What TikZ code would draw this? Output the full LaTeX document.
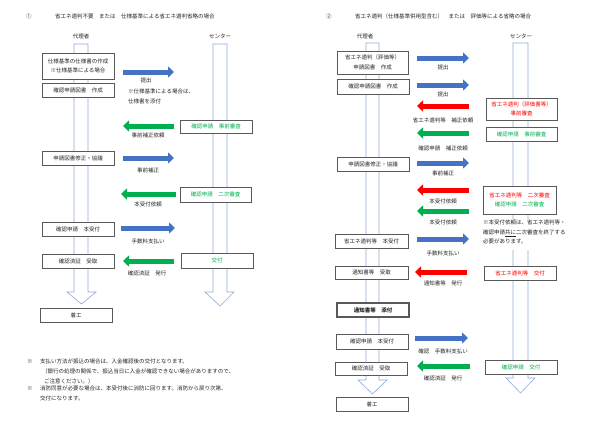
\documentclass[tikz,border=0pt]{standalone}
\usepackage{fontspec}
\setmainfont{Noto Sans CJK JP}
\usetikzlibrary{arrows.meta}
\definecolor{lifec}{HTML}{8EAADB}
\definecolor{abl}{HTML}{4472C4}
\definecolor{agr}{HTML}{00B050}
\definecolor{ard}{HTML}{FF0000}
\definecolor{bxc}{HTML}{595959}
\definecolor{txc}{HTML}{262626}
\begin{document}
\begin{tikzpicture}[x=1pt,y=-1pt,
  every node/.style={font=\fontsize{5.5}{9.7}\selectfont, inner sep=0pt, text=txc},
  box/.style={draw=bxc, line width=0.8pt, fill=white, minimum width=72pt, minimum height=14pt, align=center},
  gbox/.style={box, text=agr},
  rbox/.style={box, text=ard},
  flow/.style={draw=lifec, line width=0.6pt, fill=white},
  fa/.style={line width=5pt, -{Triangle[length=6pt,width=11pt]}},
  fblue/.style={fa, draw=abl},
  fgreen/.style={fa, draw=agr},
  fred/.style={fa, draw=ard},
  lab/.style={align=left},
  note/.style={align=left, anchor=north west}
]
\useasboundingbox (0,0) rectangle (600,424);
\fill[white] (0,0) rectangle (600,424);

% ===================== LEFT PANEL =====================
\node[anchor=west] (numL) at (26,16) {①};
\node[anchor=west] (titleL) at (55,16) {省エネ適判不要　または　仕様基準による省エネ適判省略の場合};
\node (agL) at (81,36) {代理者};
\node (ceL) at (220,36) {センター};

% lifelines
\draw[flow] (74,44) -- (88,44) -- (88,292) -- (96,292) -- (81.5,304) -- (67,292) -- (74,292) -- cycle;
\draw[flow] (213,44) -- (227,44) -- (227,292) -- (234,292) -- (220,306) -- (205,292) -- (213,292) -- cycle;

\node[box, minimum height=26pt] (La1) at (78,66) {仕様基準の仕様書の作成\\※仕様基準による場合};
\node[box] (La2) at (78,90) {確認申請図書　作成};
\coordinate (L1s) at (123,72); \coordinate (L1e) at (174,72);
\draw[fblue] (L1s) -- (L1e);
\node (L1l) at (146,80.5) {提出};
\node[note] (Ln1) at (128,89) {※仕様基準による場合は、\\仕様書を添付};

\node[gbox, minimum height=13pt] (Lc1) at (216,126.5) {確認申請　事前審査};
\coordinate (L2s) at (174,126); \coordinate (L2e) at (123,126);
\draw[fgreen] (L2s) -- (L2e);
\node (L2l) at (148,135) {事前補正依頼};

\node[box] (La3) at (78,158) {申請図書修正・協議};
\coordinate (L3s) at (123,158); \coordinate (L3e) at (174,158);
\draw[fblue] (L3s) -- (L3e);
\node (L3l) at (148,170) {事前補正};

\node[gbox, minimum width=71pt, minimum height=15pt] (Lc2) at (215.5,194.5) {確認申請　二次審査};
\coordinate (L4s) at (176,194); \coordinate (L4e) at (121,194);
\draw[fgreen] (L4s) -- (L4e);
\node (L4l) at (148,204.5) {本受付依頼};

\node[box] (La4) at (78,229) {確認申請　本受付};
\coordinate (L5s) at (121,228); \coordinate (L5e) at (175,228);
\draw[fblue] (L5s) -- (L5e);
\node (L5l) at (148,241) {手数料支払い};

\node[box] (La5) at (78,261) {確認済証　受取};
\node[gbox, minimum height=15pt] (Lc3) at (217,260.5) {交付};
\coordinate (L6s) at (174,261); \coordinate (L6e) at (123,261);
\draw[fgreen] (L6s) -- (L6e);
\node (L6l) at (147,273) {確認済証　発行};

\node[box] (La6) at (76,315) {着工};

\node[note] (LnA) at (27,359) {※};
\node[note] (LnB) at (40,359) {支払い方法が振込の場合は、入金確認後の交付となります。\\
\hspace*{2pt}（銀行の処理の関係で、振込当日に入金が確認できない場合がありますので、\\
\hspace*{4pt}ご注意ください。）};
\node[note] (LnC) at (27,386) {※};
\node[note] (LnD) at (40,386) {消防同意が必要な場合は、本受付後に消防に回ります。消防から戻り次第、\\交付になります。};

% ===================== RIGHT PANEL =====================
\node[anchor=west] (numR) at (326,16) {②};
\node[anchor=west] (titleR) at (355,16) {省エネ適判（仕様基準併用型含む）　または　評価等による省略の場合};
\node (agR) at (365,36) {代理者};
\node (ceR) at (521,36) {センター};

\draw[flow] (366,43) -- (379,43) -- (379,380) -- (387,380) -- (372.5,394) -- (358,380) -- (366,380) -- cycle;
\draw[flow] (513,43) -- (528,43) -- (528,378) -- (535,378) -- (520.5,393) -- (506,378) -- (513,378) -- cycle;

\node[box, minimum width=71pt, minimum height=23pt] (Ra1) at (372.5,62.5) {省エネ適判（評価等）\\申請図書　作成};
\coordinate (R1s) at (417,58); \coordinate (R1e) at (469,58);
\draw[fblue] (R1s) -- (R1e);
\node (R1l) at (443,67) {提出};

\node[box, minimum height=15pt] (Ra2) at (373,86.5) {確認申請図書　作成};
\coordinate (R2s) at (417,85); \coordinate (R2e) at (469,85);
\draw[fblue] (R2s) -- (R2e);
\node (R2l) at (443,94.5) {提出};

\node[rbox, minimum width=71pt, minimum height=22pt] (Rc1) at (521.5,109) {省エネ適判（評価書等）\\事前審査};
\coordinate (R3s) at (469,106); \coordinate (R3e) at (417,106);
\draw[fred] (R3s) -- (R3e);
\node (R3l) at (443,120) {省エネ適判等　補正依頼};

\node[gbox, minimum width=71pt] (Rc2) at (521.5,134) {確認申請　事前審査};
\coordinate (R4s) at (469,133); \coordinate (R4e) at (417,133);
\draw[fgreen] (R4s) -- (R4e);
\node (R4l) at (443,148) {確認申請　補正依頼};

\node[box] (Ra3) at (373,164) {申請図書修正・協議};
\coordinate (R5s) at (417,163); \coordinate (R5e) at (469,163);
\draw[fblue] (R5s) -- (R5e);
\node (R5l) at (443,173.5) {事前補正};

\node[box, minimum width=73pt, minimum height=28pt] (Rc3) at (519.5,200) {\textcolor{ard}{省エネ適判等　二次審査}\\\textcolor{agr}{確認申請　二次審査}};
\coordinate (R6s) at (469,190); \coordinate (R6e) at (417,190);
\draw[fred] (R6s) -- (R6e);
\node (R6l) at (443,201) {本受付依頼};
\coordinate (R7s) at (469,211); \coordinate (R7e) at (417,211);
\draw[fgreen] (R7s) -- (R7e);
\node (R7l) at (443,222) {本受付依頼};

\node[note, fill=white, inner sep=1pt] (Rn1) at (482,218.5) {※本受付依頼は、省エネ適判等・\\確認申請\underline{共に}二次審査を終了する\\必要があります。};
\fill[white] (510,245) rectangle (531,250);

\node[box, minimum width=73pt] (Ra4) at (371.5,241) {省エネ適判等　本受付};
\coordinate (R8s) at (417,239); \coordinate (R8e) at (469,239);
\draw[fblue] (R8s) -- (R8e);
\node (R8l) at (443,253) {手数料支払い};

\node[box, minimum width=73pt, minimum height=13pt] (Ra5) at (371.5,272.5) {通知書等　受取};
\node[rbox] (Rc4) at (520,273) {省エネ適判等　交付};
\coordinate (R9s) at (467,272); \coordinate (R9e) at (415,272);
\draw[fred] (R9s) -- (R9e);
\node (R9l) at (443,283.5) {通知書等　発行};

\node[box, line width=1.1pt, font=\fontsize{5.5}{9.7}\selectfont\bfseries] (Ra6) at (373,310) {通知書等　添付};

\node[box, minimum height=15pt] (Ra7) at (372,341.5) {確認申請　本受付};
\coordinate (R10s) at (415,338); \coordinate (R10e) at (468,338);
\draw[fblue] (R10s) -- (R10e);
\node (R10l) at (443,351) {確認　手数料支払い};

\node[gbox] (Rc5) at (521,367) {確認申請　交付};
\node[box, minimum height=13pt] (Ra8) at (371,368.5) {確認済証　受取};
\coordinate (R11s) at (470,366); \coordinate (R11e) at (417,366);
\draw[fgreen] (R11s) -- (R11e);
\node (R11l) at (443,378.5) {確認済証　発行};

\node[box] (Ra9) at (372,404) {着工};
\end{tikzpicture}
\end{document}
